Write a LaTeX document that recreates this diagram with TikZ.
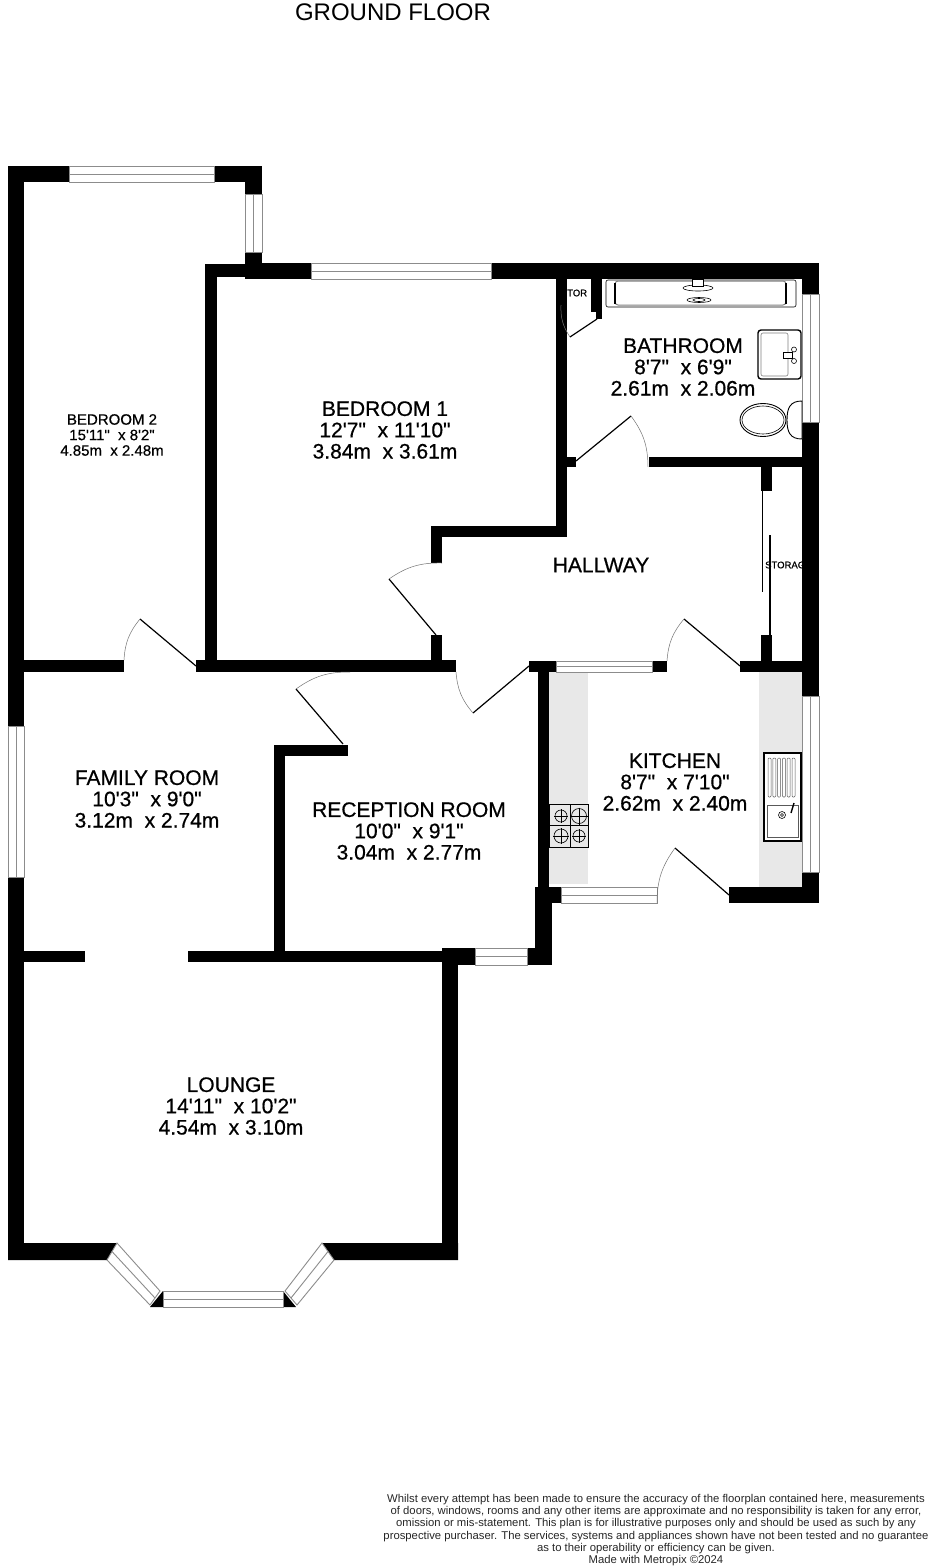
\documentclass[tikz,border=0pt]{standalone}
\usepackage{fontspec}
\setmainfont{Liberation Sans}
\newfontfamily\planfont[FakeBold=0.6]{Liberation Sans}
\tikzset{
    wall/.style={fill=black},
    glass/.style={draw=black!45,line width=0.9pt,fill=white},
    leaf/.style={draw=black,line width=1.2pt},
    swing/.style={draw=black!55,line width=0.5pt},
    counter/.style={fill=black!9},
    fitting/.style={draw=black,line width=0.6pt,fill=white},
    heavy/.style={draw=black,line width=1.4pt},
    bigroom/.style={inner sep=0pt,align=center,font=\planfont\fontsize{21}{21.3}\selectfont},
    smallroom/.style={inner sep=0pt,align=center,font=\planfont\fontsize{15}{15.5}\selectfont},
    tinyroom/.style={inner sep=0pt,anchor=west,font=\planfont\fontsize{9.5}{10}\selectfont},
    smallprint/.style={inner sep=0pt,align=center,text=black!85,font=\fontsize{11.3}{12.2}\selectfont}
}
\begin{document}
\begin{tikzpicture}[x=1pt,y=-1pt]
    \useasboundingbox (0,0) rectangle (928,1568);
    % worktops
    \fill[counter] (549,672) rectangle (588,884);
    \fill[counter] (759,672) rectangle (802,887);
    % labels that run under the walls
    \node[tinyroom] (stor label) at (567,293) {TOR};
    \node[tinyroom] (storage label) at (765,565) {STORAG};
    % walls
    \foreach \xa/\ya/\xb/\yb in {8/166/69/182,214/166/262/182,245/182/262/194,245/252/262/279,
        205/264/262/277,205/264/217/672,245/263/311/279,491/263/819/279,
        802/279/819/294,802/422/819/696,802/872/819/903,729/887/819/903,
        556/279/567/537,431/526/567/537,431/526/442/563,431/635/442/672,
        591/279/602/312,596/312/602/319,556/457/576/467,649/457/802/467,
        761/467/772/491,761/635/772/672,
        8/166/24/726,8/877/24/1260,24/660/124/672,196/660/456/672,
        529/661/556/672,652/661/667/672,740/661/819/672,
        538/672/549/887,535/887/552/965,535/887/561/903,527/948/552/965,
        442/948/475/965,442/948/458/1260,
        274/745/348/756,274/745/285/951,24/951/85/962,188/951/442/962}
        \fill[wall] (\xa,\ya) rectangle (\xb,\yb);
    \fill[wall] (8,1243) -- (117,1243) -- (107,1260) -- (8,1260) -- cycle;
    \fill[wall] (322,1243) -- (458,1243) -- (458,1260) -- (334,1260) -- cycle;
    \fill[wall] (150,1307) -- (163,1291) -- (163,1307) -- cycle;
    \fill[wall] (283,1291) -- (296,1307) -- (283,1307) -- cycle;
    % windows
    \foreach \xa/\ya/\xb/\yb in {69/166/214/182,311/263/491/279,556/661/652/672,
        561/887/657/903,475/948/527/965,163/1291/283/1307} {
        \path[glass] (\xa,\ya) rectangle (\xb,\yb);
        \draw[glass] (\xa,{(\ya+\yb)/2}) -- (\xb,{(\ya+\yb)/2});
    }
    \foreach \xa/\ya/\xb/\yb in {245/194/262/252,802/294/819/422,802/696/819/872,8/726/24/877} {
        \path[glass] (\xa,\ya) rectangle (\xb,\yb);
        \draw[glass] ({(\xa+\xb)/2},\ya) -- ({(\xa+\xb)/2},\yb);
    }
    \draw[glass] (117,1243) -- (160,1291) -- (150,1305) -- (107,1260) -- cycle;
    \draw[glass] (112,1251.5) -- (155,1298);
    \draw[glass] (322,1243) -- (285,1291) -- (297,1305) -- (334,1260) -- cycle;
    \draw[glass] (328,1251.5) -- (291,1298);
    % doors: hinge, tip, end of swing, bend
    \foreach \hx/\hy/\tx/\ty/\ex/\ey/\bnd in {196/666/140/619/124/660/-18,
        436/635/389/579/442/563/18,343/744/296/689/350/672/18,
        529/666/473/713/456/672/18,740/666/684/619/667/661/-18,
        729/895/675/848/657/903/-18,576/461/631/416/648/467/18,
        597/319/570/337/561/305/18} {
        \draw[leaf] (\hx,\hy) -- (\tx,\ty);
        \draw[swing] (\tx,\ty) to[bend left=\bnd] (\ex,\ey);
    }
    \draw[leaf] (762.5,491) -- (762.5,592);
    \draw[leaf] (770,535) -- (770,635);
    % bath
    \draw[draw=black,line width=0.6pt,rounded corners=2pt] (606,280) rectangle (796,307);
    \draw[draw=black!50,line width=1pt,rounded corners=3pt] (615,281) rectangle (786,305);
    \draw[heavy] (615,283) -- (615,304);
    \draw[heavy] (786,283) -- (786,304);
    \draw[fitting] (698,288) ellipse (15 and 3);
    \draw[fitting] (692,279) rectangle (703,286);
    \draw[fitting] (699,300) ellipse (12 and 2.5);
    \draw[fitting] (699,300) ellipse (6 and 1.5);
    % basin
    \draw[heavy,rounded corners=3pt,fill=white] (758,330) rectangle (801,379);
    \draw[draw=black!50,line width=0.6pt,rounded corners=2pt] (761,333) rectangle (788,376);
    \draw[fitting] (783,352) rectangle (792,358);
    \draw[fitting] (794,349.5) circle (2.5);
    \draw[fitting] (794,361) circle (2.5);
    % toilet
    \draw[fitting,line width=0.9pt] (763,420) ellipse (23 and 16.5);
    \draw[fitting] (763,420) ellipse (21 and 14);
    \draw[fitting,line width=0.9pt] (802,401) .. controls (790,401) and (787,408) .. (787,420)
        .. controls (787,432) and (790,439) .. (802,439) -- cycle;
    % hob
    \draw[fitting,fill=none] (549,804) rectangle (588,847);
    \draw[fitting] (570,804) -- (570,847);
    \draw[fitting] (549,825) -- (588,825);
    \foreach \cx/\cy/\rad in {561/816/6,579/816/7.5,561/836/7,579/836/6} {
        \draw[fitting,fill=none] (\cx,\cy) circle (\rad);
        \draw[line width=0.5pt] (\cx-\rad-1,\cy) -- (\cx+\rad+1,\cy);
        \draw[line width=0.5pt] (\cx,\cy-\rad-1) -- (\cx,\cy+\rad+1);
    }
    % sink
    \draw[heavy,fill=white] (764,753) rectangle (801,841);
    \foreach \sx in {768,772.8,777.6,782.4,787.2,792} {
        \draw[draw=black!65,line width=0.5pt,rounded corners=1pt] (\sx,758) rectangle ++(3,39);
    }
    \draw[draw=black!65,line width=0.5pt] (767,805) rectangle (798,837);
    \draw[fitting] (782,815) circle (3.5);
    \draw[fitting] (782,815) circle (1.5);
    \draw[draw=black,line width=1.4pt] (794,803) -- (791,813);
    % room labels
    \node[smallroom] (bedroom two) at (112,435) {BEDROOM 2\\15'11"~~x 8'2"\\4.85m~~x 2.48m};
    \node[bigroom] (bedroom one) at (385,430) {BEDROOM 1\\12'7"~~x 11'10"\\3.84m~~x 3.61m};
    \node[bigroom] (bathroom) at (683,367) {BATHROOM\\8'7"~~x 6'9"\\2.61m~~x 2.06m};
    \node[bigroom] (hallway) at (601,565) {HALLWAY};
    \node[bigroom] (kitchen) at (675,782) {KITCHEN\\8'7"~~x 7'10"\\2.62m~~x 2.40m};
    \node[bigroom] (family room) at (147,799) {FAMILY ROOM\\10'3"~~x 9'0"\\3.12m~~x 2.74m};
    \node[bigroom] (reception) at (409,831) {RECEPTION ROOM\\10'0"~~x 9'1"\\3.04m~~x 2.77m};
    \node[bigroom] (lounge) at (231,1106) {LOUNGE\\14'11"~~x 10'2"\\4.54m~~x 3.10m};
    \node[inner sep=0pt,font=\fontsize{24}{24}\selectfont] (floor title) at (393,12) {GROUND FLOOR};
    \node[smallprint] (disclaimer) at (656,1530) {Whilst every attempt has been made to ensure the accuracy of the floorplan contained here, measurements\\
        of doors, windows, rooms and any other items are approximate and no responsibility is taken for any error,\\
        omission or mis-statement. This plan is for illustrative purposes only and should be used as such by any\\
        prospective purchaser. The services, systems and appliances shown have not been tested and no guarantee\\
        as to their operability or efficiency can be given.\\
        Made with Metropix \textcopyright 2024};
\end{tikzpicture}
\end{document}
